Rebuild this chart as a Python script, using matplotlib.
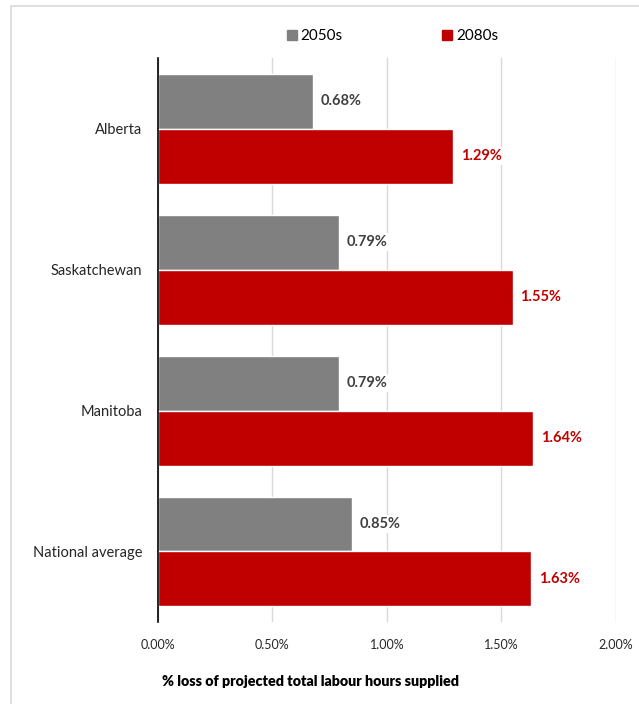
import matplotlib.pyplot as plt
import numpy as np
from matplotlib.patches import Rectangle
from matplotlib.lines import Line2D

plt.rcParams['font.family'] = ['Lato', 'DejaVu Sans']

regions = ['Alberta', 'Saskatchewan', 'Manitoba', 'National average']
loss_2050s = [0.68, 0.79, 0.79, 0.85]
loss_2080s = [1.29, 1.55, 1.64, 1.63]
series_names = ['2050s', '2080s']

grey = '#808080'
red = '#C00000'

fig = plt.figure(figsize=(6.39, 7.04), dpi=100)
ax = fig.add_axes([0.2468, 0.1165, 0.717, 0.801])

y = np.arange(len(regions))
h = 0.39
bars_a = ax.barh(y - h / 2, loss_2050s, height=h, color=grey, edgecolor='white', linewidth=1, zorder=2)
bars_b = ax.barh(y + h / 2, loss_2080s, height=h, color=red, edgecolor='white', linewidth=1, zorder=2)

for bars, vals, col in [(bars_a, loss_2050s, '#404040'), (bars_b, loss_2080s, red)]:
    for bar, v in zip(bars, vals):
        ax.annotate(f'{v:.2f}%', (v, bar.get_y() + bar.get_height() / 2),
                    xytext=(5.5, 0), textcoords='offset points', ha='left', va='center',
                    fontsize=10.5, fontweight='bold', color=col, zorder=3,
                    bbox=dict(facecolor='white', edgecolor='none', pad=1.5))

ax.set_xlim(0, 2.0)
ax.set_ylim(len(regions) - 0.5, -0.5)
ax.set_xticks([0, 0.5, 1.0, 1.5, 2.0])
ax.set_xticklabels([f'{t:.2f}%' for t in ax.get_xticks()], fontsize=9, color='#262626')
ax.set_yticks(y)
ax.set_yticklabels(regions, fontsize=10.5, color='#262626')
ax.tick_params(axis='both', length=0)
ax.tick_params(axis='x', pad=12)
ax.tick_params(axis='y', pad=11)
ax.grid(axis='x', color='#d9d9d9', linewidth=1, zorder=0)
ax.set_axisbelow(True)
for s in ['top', 'right', 'bottom']:
    ax.spines[s].set_visible(False)
ax.spines['left'].set_color('black')
ax.spines['left'].set_linewidth(1.2)
ax.spines['left'].set_zorder(4)

fig.text(310 / 639, 1 - 681 / 704, '% loss of projected total labour hours supplied',
         ha='center', va='center', fontsize=10.3, fontweight='heavy', color='black')

handles = [Line2D([], [], marker='s', linestyle='none', markersize=7, color=c)
           for c in [grey, red]]
fig.legend(handles, series_names, loc='center', bbox_to_anchor=(391 / 639, 1 - 36 / 704),
           ncol=2, frameon=False, fontsize=11, handletextpad=0.1, columnspacing=6.3,
           handlelength=1.0)

# light frame around the chart area
fig.patches.append(Rectangle((10.5 / 639, -0.1), 1.2, 1.1 - 6.5 / 704, transform=fig.transFigure,
                             fill=False, edgecolor='#d9d9d9', linewidth=1.2))

fig.savefig('out.png', dpi=100)
